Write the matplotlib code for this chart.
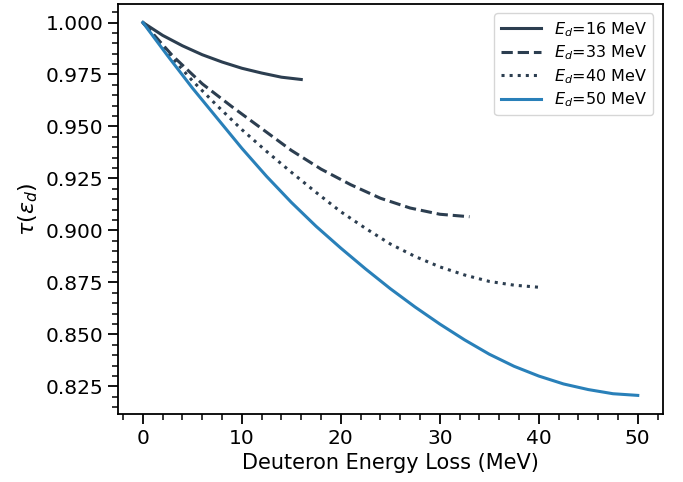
import matplotlib
matplotlib.use("Agg")
import matplotlib.pyplot as plt
from matplotlib.ticker import MultipleLocator

# values
loss_16 = [0, 2, 4, 6, 8, 10, 12, 14, 16]
tau_16 = [1.000, 0.9938, 0.9888, 0.9845, 0.9810, 0.9780, 0.9757, 0.9737, 0.9726]

loss_33 = [0, 3, 6, 9, 12, 15, 18, 21, 24, 27, 30, 33]
tau_33 = [1.000, 0.9840, 0.9705, 0.9595, 0.9490, 0.9385, 0.9295, 0.9220,
          0.9155, 0.9108, 0.9078, 0.9066]

loss_40 = [0, 2.5, 5, 7.5, 10, 12.5, 15, 17.5, 20, 22.5, 25, 27.5, 30,
           32.5, 35, 37.5, 40]
tau_40 = [1.000, 0.9855, 0.9720, 0.9600, 0.9485, 0.9380, 0.9280, 0.9183,
          0.9090, 0.9010, 0.8935, 0.8875, 0.8825, 0.8786, 0.8755, 0.8737, 0.8727]

loss_50 = [0, 2.5, 5, 7.5, 10, 12.5, 15, 17.5, 20, 22.5, 25, 27.5, 30,
           32.5, 35, 37.5, 40, 42.5, 45, 47.5, 50]
tau_50 = [1.000, 0.9840, 0.9685, 0.9540, 0.9395, 0.9260, 0.9135, 0.9020,
          0.8915, 0.8815, 0.8720, 0.8632, 0.8550, 0.8474, 0.8405, 0.8347,
          0.8300, 0.8262, 0.8235, 0.8215, 0.8207]

dark = "#2c3e50"
blue = "#2980b9"

fig = plt.figure(figsize=(6.83, 4.82), dpi=100)
ax = fig.add_axes([0.173, 0.141, 0.797, 0.851])

ax.plot(loss_16, tau_16, color=dark, lw=2.2, ls="-", label=r"$E_d$=16 MeV")
ax.plot(loss_33, tau_33, color=dark, lw=2.2, ls="--", label=r"$E_d$=33 MeV")
ax.plot(loss_40, tau_40, color=dark, lw=2.2, ls=":", label=r"$E_d$=40 MeV")
ax.plot(loss_50, tau_50, color=blue, lw=2.2, ls="-", label=r"$E_d$=50 MeV")

ax.set_xlabel("Deuteron Energy Loss (MeV)", fontsize=15)
ax.set_ylabel(r"$\tau(\epsilon_d)$", fontsize=16)

ax.xaxis.set_major_locator(MultipleLocator(10))
ax.xaxis.set_minor_locator(MultipleLocator(2))
ax.yaxis.set_major_locator(MultipleLocator(0.025))
ax.yaxis.set_minor_locator(MultipleLocator(0.005))
ax.tick_params(which="major", labelsize=14.5, length=7, width=1.3)
ax.tick_params(which="minor", length=4, width=1.1)
for s in ax.spines.values():
    s.set_linewidth(1.3)

ax.legend(loc="upper right", fontsize=11.5, handlelength=2.5,
          labelspacing=0.3, borderaxespad=0.6)

fig.savefig("out.png", dpi=100)
